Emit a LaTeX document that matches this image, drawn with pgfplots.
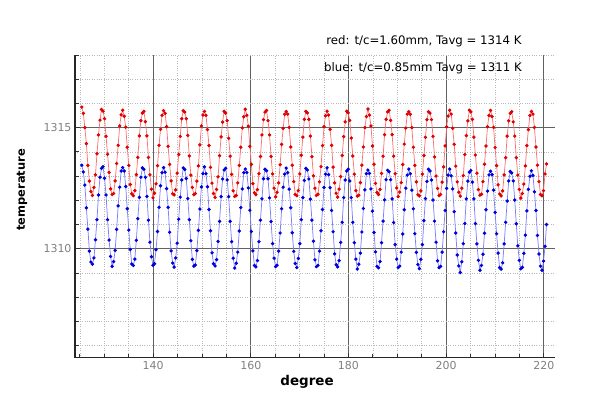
\documentclass[border=0pt]{standalone}
\usepackage{fontspec}
\setmainfont{DejaVu Sans}
\usepackage{pgfplots}
\usepackage{pgfplotstable}
\pgfplotsset{compat=1.18}
\pgfplotstableread{
x r b
125.40 1315.85 1313.45
125.71 1315.59 1313.17
126.02 1315.00 1312.63
126.33 1314.34 1311.69
126.64 1313.44 1310.81
126.95 1312.79 1309.90
127.26 1312.36 1309.45
127.57 1312.20 1309.36
127.88 1312.53 1309.62
128.19 1313.05 1310.37
128.50 1313.92 1311.20
128.81 1314.70 1312.22
129.12 1315.31 1312.95
129.43 1315.75 1313.32
129.74 1315.68 1313.39
130.05 1315.37 1312.91
130.36 1314.64 1312.22
130.67 1313.90 1311.20
130.98 1313.15 1310.36
131.29 1312.47 1309.68
131.60 1312.24 1309.27
131.91 1312.28 1309.47
132.22 1312.80 1309.93
132.53 1313.52 1310.80
132.84 1314.27 1311.77
133.15 1315.07 1312.54
133.46 1315.53 1313.21
133.77 1315.72 1313.35
134.08 1315.47 1313.21
134.39 1315.02 1312.57
134.70 1314.19 1311.65
135.01 1313.44 1310.77
135.32 1312.65 1309.97
135.63 1312.27 1309.37
135.94 1312.19 1309.31
136.25 1312.40 1309.57
136.56 1313.06 1310.35
136.87 1313.77 1311.24
137.18 1314.66 1312.12
137.49 1315.29 1312.95
137.80 1315.60 1313.34
138.11 1315.67 1313.28
138.42 1315.25 1312.95
138.73 1314.66 1312.16
139.04 1313.77 1311.18
139.35 1313.05 1310.27
139.66 1312.46 1309.67
139.97 1312.10 1309.32
140.28 1312.29 1309.38
140.59 1312.68 1309.96
140.90 1313.43 1310.71
141.21 1314.27 1311.71
141.52 1314.93 1312.60
141.83 1315.51 1313.14
142.14 1315.70 1313.35
142.45 1315.59 1313.16
142.76 1315.04 1312.48
143.07 1314.23 1311.71
143.38 1313.48 1310.68
143.69 1312.80 1309.91
144.00 1312.27 1309.41
144.31 1312.22 1309.24
144.62 1312.43 1309.62
144.93 1313.12 1310.23
145.24 1313.89 1311.22
145.55 1314.64 1312.13
145.86 1315.37 1312.84
146.17 1315.70 1313.34
146.48 1315.64 1313.27
146.79 1315.37 1312.90
147.10 1314.68 1312.07
147.41 1313.83 1311.20
147.72 1313.04 1310.33
148.03 1312.53 1309.56
148.34 1312.23 1309.28
148.65 1312.28 1309.33
148.96 1312.79 1309.92
149.27 1313.42 1310.76
149.58 1314.29 1311.64
149.89 1315.07 1312.55
150.20 1315.52 1313.10
150.51 1315.67 1313.38
150.82 1315.51 1313.10
151.13 1314.92 1312.56
151.44 1314.26 1311.62
151.75 1313.36 1310.74
152.06 1312.71 1309.83
152.37 1312.28 1309.38
152.68 1312.12 1309.29
152.99 1312.45 1309.55
153.30 1312.97 1310.30
153.61 1313.84 1311.13
153.92 1314.62 1312.15
154.23 1315.23 1312.88
154.54 1315.67 1313.25
154.85 1315.60 1313.32
155.16 1315.29 1312.84
155.47 1314.56 1312.15
155.78 1313.82 1311.13
156.09 1313.07 1310.29
156.40 1312.39 1309.61
156.71 1312.16 1309.20
157.02 1312.20 1309.40
157.33 1312.72 1309.86
157.64 1313.44 1310.73
157.95 1314.19 1311.70
158.26 1314.99 1312.47
158.57 1315.45 1313.14
158.88 1315.76 1313.29
159.19 1315.51 1313.15
159.50 1315.06 1312.51
159.81 1314.23 1311.59
160.12 1313.48 1310.71
160.43 1312.69 1309.91
160.74 1312.31 1309.31
161.05 1312.23 1309.25
161.36 1312.44 1309.51
161.67 1313.10 1310.29
161.98 1313.81 1311.18
162.29 1314.70 1312.06
162.60 1315.33 1312.89
162.91 1315.64 1313.28
163.22 1315.71 1313.22
163.53 1315.29 1312.89
163.84 1314.70 1312.10
164.15 1313.81 1311.12
164.46 1313.09 1310.21
164.77 1312.50 1309.61
165.08 1312.14 1309.26
165.39 1312.33 1309.32
165.70 1312.72 1309.90
166.01 1313.47 1310.65
166.32 1314.31 1311.65
166.63 1314.97 1312.54
166.94 1315.55 1313.08
167.25 1315.67 1313.33
167.56 1315.56 1313.14
167.87 1315.01 1312.46
168.18 1314.20 1311.69
168.49 1313.45 1310.66
168.80 1312.77 1309.89
169.11 1312.24 1309.39
169.42 1312.19 1309.22
169.73 1312.40 1309.60
170.04 1313.09 1310.21
170.35 1313.86 1311.20
170.66 1314.61 1312.11
170.97 1315.34 1312.82
171.28 1315.67 1313.32
171.59 1315.61 1313.25
171.90 1315.34 1312.88
172.21 1314.65 1312.05
172.52 1313.80 1311.18
172.83 1313.01 1310.31
173.14 1312.50 1309.54
173.45 1312.20 1309.26
173.76 1312.25 1309.31
174.07 1312.76 1309.90
174.38 1313.39 1310.74
174.69 1314.26 1311.62
175.00 1315.04 1312.53
175.31 1315.49 1313.08
175.62 1315.68 1313.34
175.93 1315.52 1313.06
176.24 1314.93 1312.52
176.55 1314.27 1311.58
176.86 1313.37 1310.70
177.17 1312.72 1309.79
177.48 1312.29 1309.34
177.79 1312.13 1309.25
178.10 1312.46 1309.51
178.41 1312.98 1310.26
178.72 1313.85 1311.09
179.03 1314.63 1312.11
179.34 1315.24 1312.84
179.65 1315.68 1313.21
179.96 1315.61 1313.28
180.27 1315.30 1312.80
180.58 1314.57 1312.11
180.89 1313.83 1311.09
181.20 1313.08 1310.25
181.51 1312.40 1309.57
181.82 1312.17 1309.16
182.13 1312.21 1309.36
182.44 1312.73 1309.82
182.75 1313.45 1310.69
183.06 1314.20 1311.66
183.37 1315.00 1312.43
183.68 1315.46 1313.10
183.99 1315.77 1313.25
184.30 1315.52 1313.11
184.61 1315.07 1312.47
184.92 1314.24 1311.55
185.23 1313.49 1310.67
185.54 1312.70 1309.87
185.85 1312.32 1309.27
186.16 1312.24 1309.21
186.47 1312.45 1309.47
186.78 1313.11 1310.25
187.09 1313.82 1311.14
187.40 1314.71 1312.02
187.71 1315.34 1312.85
188.02 1315.65 1313.24
188.33 1315.72 1313.18
188.64 1315.30 1312.85
188.95 1314.71 1312.06
189.26 1313.82 1311.08
189.57 1313.10 1310.17
189.88 1312.51 1309.57
190.19 1312.15 1309.22
190.50 1312.34 1309.28
190.81 1312.73 1309.86
191.12 1313.48 1310.61
191.43 1314.32 1311.61
191.74 1314.98 1312.50
192.05 1315.56 1313.04
192.36 1315.66 1313.29
192.67 1315.55 1313.10
192.98 1315.00 1312.42
193.29 1314.19 1311.65
193.60 1313.44 1310.62
193.91 1312.76 1309.85
194.22 1312.23 1309.35
194.53 1312.18 1309.18
194.84 1312.39 1309.56
195.15 1313.08 1310.17
195.46 1313.85 1311.16
195.77 1314.60 1312.07
196.08 1315.33 1312.78
196.39 1315.66 1313.28
196.70 1315.60 1313.21
197.01 1315.33 1312.84
197.32 1314.64 1312.01
197.63 1313.79 1311.14
197.94 1313.00 1310.27
198.25 1312.49 1309.50
198.56 1312.19 1309.22
198.87 1312.24 1309.27
199.18 1312.75 1309.86
199.49 1313.38 1310.70
199.80 1314.25 1311.58
200.11 1315.03 1312.49
200.42 1315.48 1313.04
200.73 1315.72 1313.29
201.04 1315.56 1313.01
201.35 1314.97 1312.47
201.66 1314.31 1311.53
201.97 1313.41 1310.65
202.28 1312.76 1309.74
202.59 1312.33 1309.29
202.90 1312.17 1309.02
203.21 1312.50 1309.46
203.52 1313.02 1310.21
203.83 1313.89 1311.04
204.14 1314.67 1312.06
204.45 1315.28 1312.79
204.76 1315.72 1313.16
205.07 1315.65 1313.23
205.38 1315.34 1312.75
205.69 1314.61 1312.06
206.00 1313.87 1311.04
206.31 1313.12 1310.20
206.62 1312.44 1309.52
206.93 1312.21 1309.11
207.24 1312.25 1309.31
207.55 1312.77 1309.77
207.86 1313.49 1310.64
208.17 1314.24 1311.61
208.48 1315.04 1312.38
208.79 1315.50 1313.05
209.10 1315.71 1313.20
209.41 1315.46 1313.06
209.72 1315.01 1312.42
210.03 1314.18 1311.50
210.34 1313.43 1310.62
210.65 1312.64 1309.82
210.96 1312.26 1309.22
211.27 1312.18 1309.16
211.58 1312.39 1309.42
211.89 1313.05 1310.20
212.20 1313.76 1311.09
212.51 1314.65 1311.97
212.82 1315.28 1312.80
213.13 1315.59 1313.19
213.44 1315.66 1313.13
213.75 1315.24 1312.80
214.06 1314.65 1312.01
214.37 1313.76 1311.03
214.68 1313.04 1310.12
214.99 1312.45 1309.52
215.30 1312.09 1309.17
215.61 1312.28 1309.23
215.92 1312.67 1309.81
216.23 1313.42 1310.56
216.54 1314.26 1311.56
216.85 1314.92 1312.45
217.16 1315.50 1312.99
217.47 1315.67 1313.22
217.78 1315.56 1313.03
218.09 1315.01 1312.35
218.40 1314.20 1311.58
218.71 1313.45 1310.55
219.02 1312.77 1309.78
219.33 1312.24 1309.28
219.64 1312.19 1309.11
219.95 1312.40 1309.49
220.26 1313.09 1310.10
220.57 1313.50 1311.00
}\datatable

\begin{document}
\begin{tikzpicture}
\path[use as bounding box] (-75bp,-38.3bp) rectangle (538bp,357.7bp);
\begin{axis}[
  scale only axis, width=480bp, height=302.7bp,
  xmin=124, xmax=222.3, ymin=1305.5, ymax=1318,
  axis x line*=bottom, axis y line*=left,
  axis line style={black!85, line width=1.3bp, -},
  xtick={140,160,180,200,220},
  minor xtick={125,130,135,145,150,155,165,170,175,185,190,195,205,210,215},
  ytick={1310,1315},
  minor ytick={1306,1307,1308,1309,1311,1312,1313,1314,1316,1317,1318},
  grid=both,
  major grid style={black!62, line width=0.75bp},
  minor grid style={black!28, dotted, line width=0.6bp},
  tick align=inside, major tick length=5bp, minor tick length=4bp,
  tick style={black!80, line width=0.8bp},
  tick label style={font=\fontsize{11}{13}\selectfont, text=black!50},
  /pgf/number format/assume math mode=true,
  /pgf/number format/1000 sep={},
  clip=false,
]
\addplot[red!55, line width=0.75bp, mark=*, mark size=1.3bp, mark options={draw=red!85!black, fill=red}] table[x=x,y=r]{\datatable};
\addplot[blue!50, line width=0.75bp, mark=*, mark size=1.3bp, mark options={draw=blue!85!black, fill=blue}] table[x=x,y=b]{\datatable};
\end{axis}
\node[font=\fontsize{11.8}{14}\selectfont] at (349bp,316bp) {red: t/c=1.60mm, Tavg = 1314 K};
\node[font=\fontsize{11.8}{14}\selectfont] at (348bp,289bp) {blue: t/c=0.85mm Tavg = 1311 K};
\node[rotate=90, font=\bfseries\fontsize{11.5}{13}\selectfont] at (-53bp,167.7bp) {temperature};
\node[font=\bfseries\fontsize{13.5}{15}\selectfont] at (232bp,-24.3bp) {degree};
\end{tikzpicture}
\end{document}
